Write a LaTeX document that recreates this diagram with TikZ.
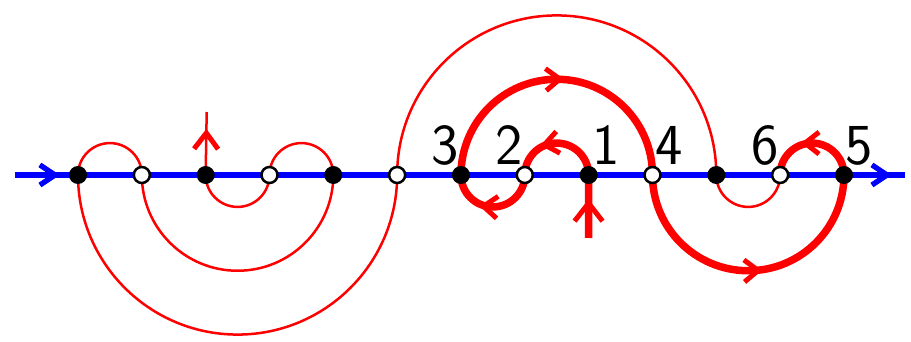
\documentclass[tikz,border=0pt]{standalone}
\usepackage{fontspec}
\usetikzlibrary{decorations.markings}
\tikzset{
  redchev/.style={postaction={decorate},
    decoration={markings, mark=at position #1 with {\draw[red, line width=5pt, line join=miter, line cap=butt] (-7,11) -- (7,0) -- (-7,-11);}}},
  bigchev/.style={postaction={decorate},
    decoration={markings, mark=at position #1 with {\draw[red, line width=5pt, line join=miter, line cap=butt] (-9,14) -- (9,0) -- (-9,-14);}}},
  thinchev/.style={postaction={decorate},
    decoration={markings, mark=at position #1 with {\draw[red, line width=5pt, line join=miter, line cap=butt] (-8,12) -- (8,0) -- (-8,-12);}}},
  bluechev/.style={postaction={decorate},
    decoration={markings, mark=at position #1 with {\draw[blue, line width=5pt, line join=miter, line cap=butt] (-8,10) -- (7,0) -- (-8,-10);}}},
  thinred/.style={draw=red, line width=2.5pt},
  thickred/.style={draw=red, line width=7.5pt},
  axisline/.style={draw=blue, line width=6pt},
  fdot/.style={circle, fill=black, inner sep=0pt, minimum size=18pt},
  odot/.style={circle, draw=black, fill=white, line width=2.5pt, inner sep=0pt, minimum size=16pt},
  lbl/.style={inner sep=0pt, font=\sffamily\fontsize{58}{60}\selectfont},
}
\begin{document}
\begin{tikzpicture}[x=1pt,y=1pt]
\useasboundingbox (0,-167) rectangle (911,175);
\foreach \i in {0,...,12} \coordinate (c\i) at ({78+63.83*\i},0);
\coordinate (ax0) at (15,0);
\coordinate (ax1) at (905,0);
\coordinate (thinend) at (206.7,63);
\coordinate (thickend) at (588.5,-63);
% axis
\draw[axisline, bluechev=33pt, bluechev=865pt] (ax0) -- (ax1);
% thin path
\draw[thinred] (c11) arc[start angle=0, end angle=-180, radius=31.915];
\draw[thinred] (c10) arc[start angle=0, end angle=180, radius=159.575];
\draw[thinred] (c5) arc[start angle=0, end angle=-180, radius=159.575];
\draw[thinred] (c0) arc[start angle=180, end angle=0, radius=31.915];
\draw[thinred] (c1) arc[start angle=180, end angle=360, radius=95.745];
\draw[thinred] (c4) arc[start angle=0, end angle=180, radius=31.915];
\draw[thinred] (c3) arc[start angle=0, end angle=-180, radius=31.915];
\draw[thinred, thinchev=0.54] (c2) -- (thinend);
% thick path
\draw[thickred, bigchev=0.41] (thickend) -- (c8);
\draw[thickred, redchev=0.555] (c8) arc[start angle=0, end angle=180, radius=31.915];
\draw[thickred, redchev=0.525] (c7) arc[start angle=0, end angle=-180, radius=31.915];
\draw[thickred, redchev=0.487] (c6) arc[start angle=180, end angle=0, radius=95.745];
\draw[thickred, redchev=0.51] (c9) arc[start angle=180, end angle=360, radius=95.745];
\draw[thickred, redchev=0.5] (c12) arc[start angle=0, end angle=180, radius=31.915];
% dots
\foreach \i in {0,2,4,6,8,10,12} \node[fdot] (d\i) at (c\i) {};
\foreach \i in {1,3,5,7,9,11} \node[odot] (d\i) at (c\i) {};
% labels
\node[lbl, anchor=base east] (l3) at (459,10) {3};
\node[lbl, anchor=base east] (l2) at (523,10) {2};
\node[lbl, anchor=base west] (l1) at (592,10) {1};
\node[lbl, anchor=base west] (l4) at (655,10) {4};
\node[lbl, anchor=base east] (l6) at (779,10) {6};
\node[lbl, anchor=base west] (l5) at (845,10) {5};
\end{tikzpicture}
\end{document}
